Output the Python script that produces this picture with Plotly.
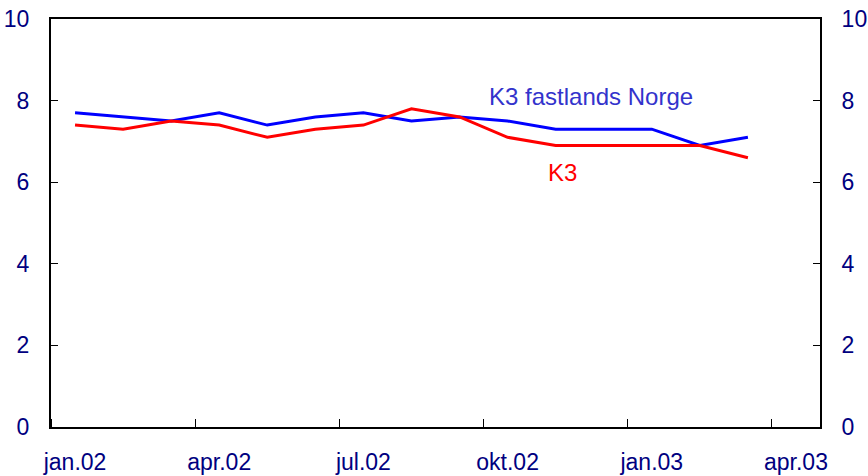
import plotly.graph_objects as go

months = ["jan.02", "feb.02", "mar.02", "apr.02", "mai.02", "jun.02", "jul.02", "aug.02",
          "sep.02", "okt.02", "nov.02", "des.02", "jan.03", "feb.03", "mar.03"]
k3_fastland = [7.7, 7.6, 7.5, 7.7, 7.4, 7.6, 7.7, 7.5, 7.6, 7.5, 7.3, 7.3, 7.3, 6.9, 7.1]
k3 = [7.4, 7.3, 7.5, 7.4, 7.1, 7.3, 7.4, 7.8, 7.6, 7.1, 6.9, 6.9, 6.9, 6.9, 6.6]
tick_labels = ["jan.02", "apr.02", "jul.02", "okt.02", "jan.03", "apr.03"]
y_ticks = [0, 2, 4, 6, 8, 10]

# month index positions (mid-month)
x_pos = [i + 0.5 for i in range(len(months))]
label_pos = [i * 3 + 0.5 for i in range(len(tick_labels))]
boundary_pos = [i * 3 for i in range(len(tick_labels))]

navy = "#000080"
font_family = "Liberation Sans, Arial, sans-serif"
tick_font = dict(size=23, color=navy, family=font_family)

fig = go.Figure()
fig.add_trace(go.Scatter(x=x_pos, y=k3_fastland, mode="lines", name="K3 fastlands Norge",
                         line=dict(color="#0000FF", width=3)))
fig.add_trace(go.Scatter(x=x_pos, y=k3, mode="lines", name="K3",
                         line=dict(color="#FF0000", width=3)))
# invisible trace for the right axis
fig.add_trace(go.Scatter(x=x_pos, y=k3, yaxis="y2", mode="lines", showlegend=False,
                         line=dict(width=0), hoverinfo="skip", opacity=0))

fig.update_layout(
    width=868, height=476,
    margin=dict(l=51, r=48, t=19, b=49),
    paper_bgcolor="white", plot_bgcolor="white",
    showlegend=False,
    font=dict(family=font_family, size=23, color=navy),
    xaxis=dict(
        range=[0, 16], tickmode="array", tickvals=label_pos, ticktext=tick_labels,
        ticks="", showgrid=False, zeroline=False, automargin=False,
        showline=True, linecolor="black", linewidth=2, mirror=True,
        ticklabelstandoff=13, ticklabeloverflow="allow",
        tickfont=tick_font,
        minor=dict(tickmode="array", tickvals=boundary_pos, ticks="inside",
                   ticklen=8, tickwidth=1, tickcolor="black", showgrid=False),
    ),
    yaxis=dict(
        range=[0, 10], tickmode="array", tickvals=y_ticks,
        ticks="inside", ticklen=7, tickwidth=1, tickcolor="black",
        showgrid=False, zeroline=False, automargin=False,
        showline=True, linecolor="black", linewidth=2,
        ticklabelstandoff=15, ticklabeloverflow="allow",
        tickfont=tick_font,
    ),
    yaxis2=dict(
        range=[0, 10], tickmode="array", tickvals=y_ticks, overlaying="y", side="right",
        ticks="inside", ticklen=7, tickwidth=1, tickcolor="black",
        showgrid=False, zeroline=False, automargin=False,
        showline=True, linecolor="black", linewidth=2,
        ticklabelstandoff=15, ticklabeloverflow="allow",
        tickfont=tick_font,
    ),
    annotations=[
        dict(x=11.23, y=8.11, xref="x", yref="y", text="K3 fastlands Norge", showarrow=False,
             font=dict(size=24, color="#3333CC", family=font_family), xanchor="center", yanchor="middle"),
        dict(x=10.65, y=6.25, xref="x", yref="y", text="K3", showarrow=False,
             font=dict(size=24, color="#FF0000", family=font_family), xanchor="center", yanchor="middle"),
    ],
)

fig.write_html("out.html",
               config={"displayModeBar": False},
               post_script="document.body.style.margin='0';document.body.style.overflow='hidden';")
